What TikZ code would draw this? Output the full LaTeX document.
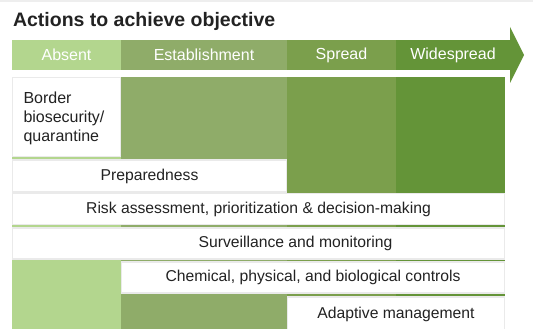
\documentclass[tikz,border=0pt]{standalone}
\usepackage{fontspec}
\setmainfont{Liberation Sans}
\usetikzlibrary{positioning}

\definecolor{absentgreen}{RGB}{179,214,142}
\definecolor{estgreen}{RGB}{143,172,105}
\definecolor{spreadgreen}{RGB}{123,159,76}
\definecolor{widegreen}{RGB}{100,148,56}
\definecolor{boxline}{RGB}{234,234,234}
\definecolor{topstrip}{RGB}{238,238,238}
\definecolor{inkgray}{RGB}{34,34,34}

\begin{document}
\begin{tikzpicture}[x=1pt,y=-1pt,
    every node/.style={inner sep=0pt,outer sep=0pt},
    stage/.style={rectangle,minimum height=30pt,text=white,
                  font=\fontsize{16}{19}\selectfont},
    actbox/.style={rectangle,fill=white,draw=boxline,line width=1.5pt,
                   anchor=north west,text=inkgray,
                   font=\fontsize{15.7}{19}\selectfont}]
  \useasboundingbox (0,0) rectangle (533,329);
  \fill[topstrip] (0,0) rectangle (533,2);

  \node[anchor=base west,text=inkgray,
        font=\bfseries\fontsize{19.5}{23}\selectfont] (title) at (13,26.7)
        {Actions to achieve objective};

  % stages along the arrow
  \node[stage,fill=absentgreen,minimum width=109pt,anchor=north west] (absent) at (12,40) {Absent};
  \node[stage,fill=estgreen,minimum width=166pt,right=0pt of absent] (estab) {Establishment};
  \node[stage,fill=spreadgreen,minimum width=109pt,right=0pt of estab] (spread) {Spread};
  \node[stage,fill=widegreen,minimum width=114pt,right=0pt of spread] (wide) {Widespread};
  \fill[widegreen] (510,27) -- (524,55) -- (510,83) -- cycle;

  % stage columns
  \foreach \xa/\xb/\col in {12/121/absentgreen,121/287/estgreen,
                            287/396/spreadgreen,396/505/widegreen}
    \fill[\col] (\xa,77) rectangle (\xb,329);

  % actions
  \node[actbox,minimum width=108pt,minimum height=79pt,text width=86pt,
        inner xsep=11pt,align=left,font=\fontsize{16}{19}\selectfont]
        (border) at (12.5,77.5) {\rule{0pt}{15pt}Border\\biosecurity/\\quarantine};
  \node[actbox,minimum width=274pt,minimum height=32pt] (prep) at (12.5,160) {Preparedness};
  \node[actbox,minimum width=492pt,minimum height=31pt] (risk) at (12.5,193.5)
        {Risk assessment, prioritization \& decision-making};
  \node[actbox,minimum width=492pt,minimum height=31pt] (surv) at (12.5,228)
        {\hspace*{74pt}Surveillance and monitoring};
  \node[actbox,minimum width=383pt,minimum height=31pt] (chem) at (121.5,262)
        {Chemical, physical, and biological controls};
  \node[actbox,minimum width=217pt,minimum height=34pt] (adapt) at (287.5,297)
        {Adaptive management};
\end{tikzpicture}
\end{document}
